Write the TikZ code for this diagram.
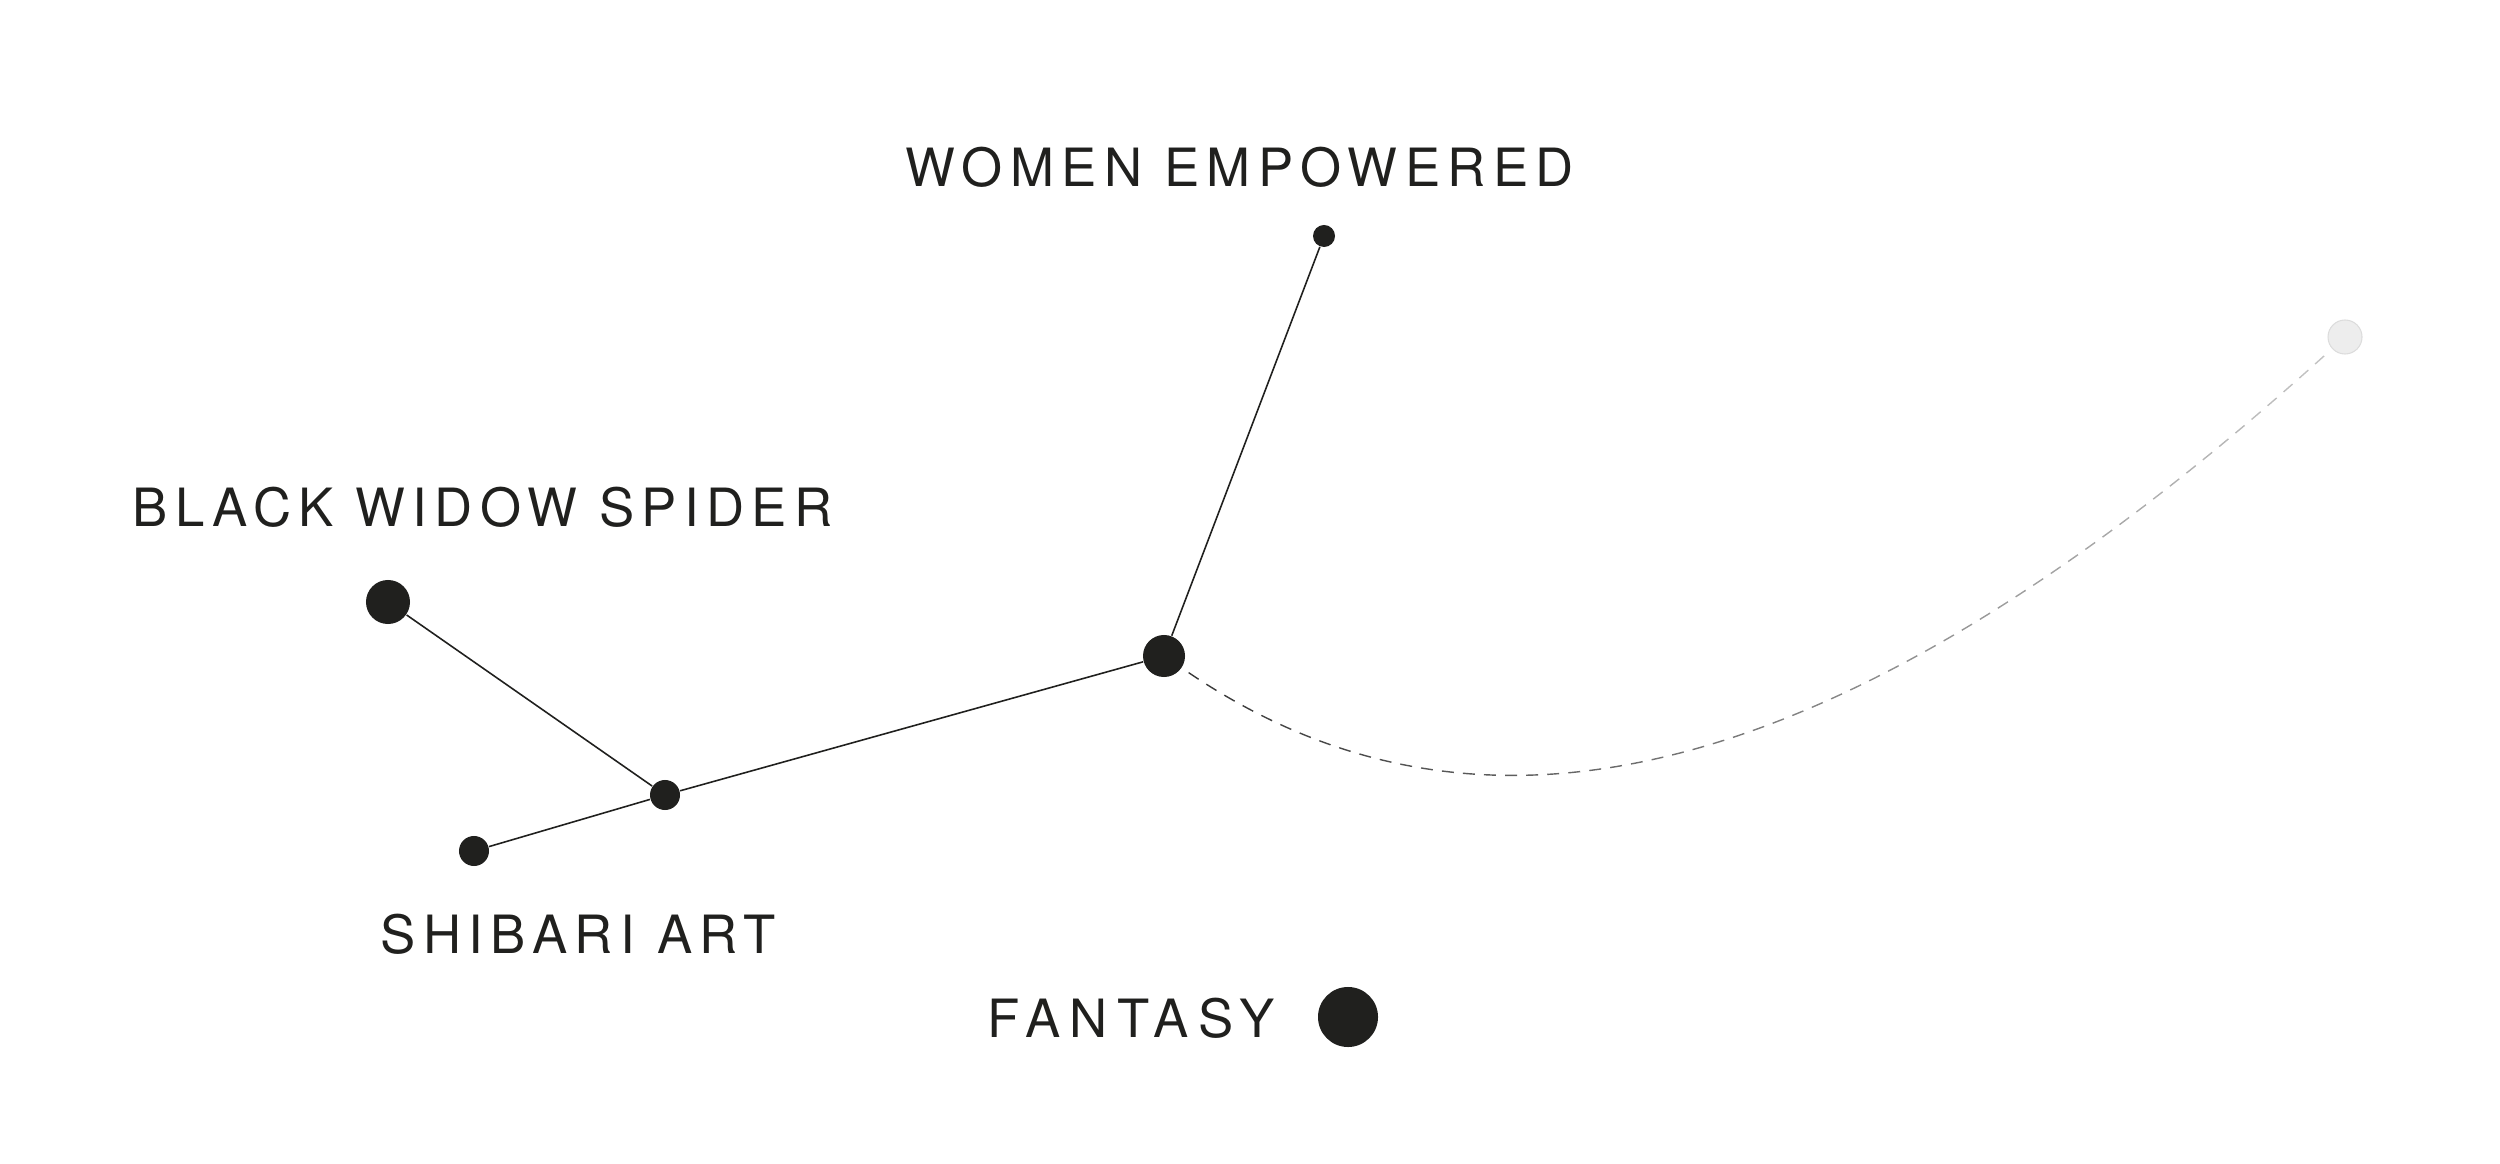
\documentclass[tikz,border=0pt]{standalone}
\usepackage{fontspec}
\newfontfamily\lblfont[LetterSpace=14]{TeX Gyre Heros}
\newfontfamily\lblwidefont[LetterSpace=17.5]{TeX Gyre Heros}
\definecolor{ink}{RGB}{32,32,30}
\definecolor{faint}{RGB}{237,237,237}
\definecolor{faintline}{RGB}{220,220,220}
\tikzset{
  cdot/.style={circle, fill=ink, draw=none, inner sep=0pt, minimum size=#1},
  lbl/.style={anchor=base west, inner sep=0pt, text=ink, font=\lblfont\fontsize{15pt}{18pt}\selectfont},
  lblwide/.style={lbl, font=\lblwidefont\fontsize{15pt}{18pt}\selectfont},
  link/.style={draw=ink, line width=0.45pt},
  trail/.style={line width=0.4pt, dash pattern=on 3.4pt off 2.6pt, shorten <=0.08cm, shorten >=0.04cm},
}
\begin{document}
\begin{tikzpicture}[x=0.01cm, y=-0.01cm]
\useasboundingbox (0,0) rectangle (2500,1164);
% labels
\node[lbl] (lwe) at (905,187) {WOMEN EMPOWERED};
\node[lbl] (lbw) at (132,527) {BLACK WIDOW SPIDER};
\node[lbl] (lsa) at (380,953) {SHIBARI ART};
\node[lblwide] (lfa) at (987,1037) {FANTASY};
% dots
\node[cdot=0.22cm] (we) at (1324,236) {};
\node[cdot=0.42cm] (hub) at (1164,656) {};
\node[cdot=0.44cm] (bw) at (388,602) {};
\node[cdot=0.30cm] (jn) at (665,795) {};
\node[cdot=0.30cm] (sa) at (474,851) {};
\node[cdot=0.60cm] (fa) at (1348,1017) {};
\node[circle, fill=faint, draw=faintline, line width=0.3pt, inner sep=0pt, minimum size=0.34cm] (fd) at (2345,337) {};
% connectors
\draw[link] (we) -- (hub);
\draw[link] (hub) -- (jn);
\draw[link] (jn) -- (bw);
\draw[link] (jn) -- (sa);
% fading dashed trail
\foreach \i in {0,...,48} {
  \pgfmathsetmacro\xa{1150+25*\i}
  \pgfmathsetmacro\xb{1175+25*\i}
  \pgfmathtruncatemacro\p{80-58*\i/48}
  \begin{scope}
    \clip (\xa,0) rectangle (\xb,1164);
    \draw[trail, draw=black!\p] (hub) .. controls (1438,841) and (1783,846) .. (fd);
  \end{scope}
}
\end{tikzpicture}
\end{document}
